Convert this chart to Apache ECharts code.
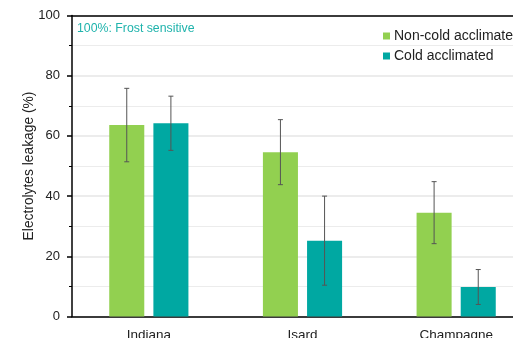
<!DOCTYPE html>
<html>
<head>
<meta charset="utf-8">
<script src="https://cdn.jsdelivr.net/npm/echarts@6/dist/echarts.min.js"></script>
<style>
  html, body { margin: 0; padding: 0; background: #fff; }
  #chart { width: 513px; height: 338px; }
</style>
</head>
<body>
<div id="chart"></div>
<script>
// Electrolyte leakage by cultivar, with standard deviations
const categories = ['Indiana', 'Isard', 'Champagne'];
const nonCold = [63.6, 54.6, 34.5];
const nonColdErr = [12.2, 10.8, 10.3];
const cold = [64.2, 25.2, 9.8];
const coldErr = [9.0, 14.8, 5.8];
const yTicks = [0, 20, 40, 60, 80, 100];

const GREEN = '#92d050';
const TEAL = '#00a8a2';
const BAR_W = 0.228;   // bar width as a fraction of the category band
const BAR_GAP = 0.26;  // gap between paired bars, fraction of bar width
const FONT = 'Liberation Sans, Arial, sans-serif';

const chart = echarts.init(document.getElementById('chart'), null, { renderer: 'canvas' });

function errorBars(values, errs, side) {
  return {
    type: 'custom',
    z: 10,
    silent: true,
    data: values.map((v, i) => [i, v, errs[i]]),
    renderItem: function (params, api) {
      const i = api.value(0);
      const v = api.value(1);
      const e = api.value(2);
      const band = api.size([1, 0])[0];
      const off = side * band * BAR_W * (1 + BAR_GAP) / 2;
      const top = api.coord([i, v + e]);
      const bot = api.coord([i, v - e]);
      const x = top[0] + off;
      const cap = 2.5;
      const style = { stroke: '#555', lineWidth: 1 };
      return {
        type: 'group',
        children: [
          { type: 'line', shape: { x1: x, y1: top[1], x2: x, y2: bot[1] }, style },
          { type: 'line', shape: { x1: x - cap, y1: top[1], x2: x + cap, y2: top[1] }, style },
          { type: 'line', shape: { x1: x - cap, y1: bot[1], x2: x + cap, y2: bot[1] }, style }
        ]
      };
    }
  };
}

const option = {
  animation: false,
  textStyle: { fontFamily: FONT },
  // plot area runs past the right edge of the canvas
  grid: {
    left: 72, width: 461, top: 15.5, height: 301,
    containLabel: false, outerBoundsMode: 'none'
  },
  title: {
    text: '100%: Frost sensitive',
    left: 72, top: 18,
    textStyle: { color: '#1fb3ac', fontSize: 12.3, fontWeight: 'normal', fontFamily: FONT }
  },
  legend: {
    orient: 'vertical',
    left: 378, top: 24,
    itemWidth: 7, itemHeight: 7,
    itemGap: 6,
    icon: 'rect',
    textStyle: { fontSize: 14, color: '#222', padding: [0, 0, 0, -1] },
    data: ['Non-cold acclimated', 'Cold acclimated']
  },
  xAxis: [{
    type: 'category',
    data: categories,
    axisLine: { lineStyle: { color: '#000', width: 1.5 } },
    axisTick: { show: false },
    axisLabel: { fontSize: 13.5, color: '#222', margin: 12 }
  }, {
    type: 'category',
    position: 'top',
    data: categories,
    axisLine: { show: true, lineStyle: { color: '#000', width: 1.5 } },
    axisTick: { show: false },
    axisLabel: { show: false }
  }],
  yAxis: {
    type: 'value',
    min: 0, max: 100, interval: 20,
    name: 'Electrolytes leakage (%)',
    nameLocation: 'middle',
    nameGap: 36,
    nameMoveOverlap: false,
    nameTextStyle: { fontSize: 13.8, color: '#222' },
    axisLine: { show: true, lineStyle: { color: '#000', width: 1.5 } },
    axisTick: { show: true, length: 5, lineStyle: { color: '#000', width: 1.5 } },
    minorTick: { show: true, splitNumber: 2, length: 3, lineStyle: { color: '#000', width: 1 } },
    minorSplitLine: { show: true, lineStyle: { color: '#ececec', width: 1 } },
    splitLine: { show: true, lineStyle: { color: '#e6e6e6', width: 1.5 } },
    axisLabel: {
      fontSize: 13, color: '#222', margin: 12,
      formatter: v => (yTicks.includes(v) ? String(v) : '')
    }
  },
  series: [
    {
      name: 'Non-cold acclimated', type: 'bar', data: nonCold,
      barWidth: (BAR_W * 100) + '%', barGap: (BAR_GAP * 100) + '%',
      itemStyle: { color: GREEN }
    },
    {
      name: 'Cold acclimated', type: 'bar', data: cold,
      barWidth: (BAR_W * 100) + '%', barGap: (BAR_GAP * 100) + '%',
      itemStyle: { color: TEAL }
    },
    errorBars(nonCold, nonColdErr, -1),
    errorBars(cold, coldErr, 1)
  ]
};

chart.setOption(option);
</script>
</body>
</html>
